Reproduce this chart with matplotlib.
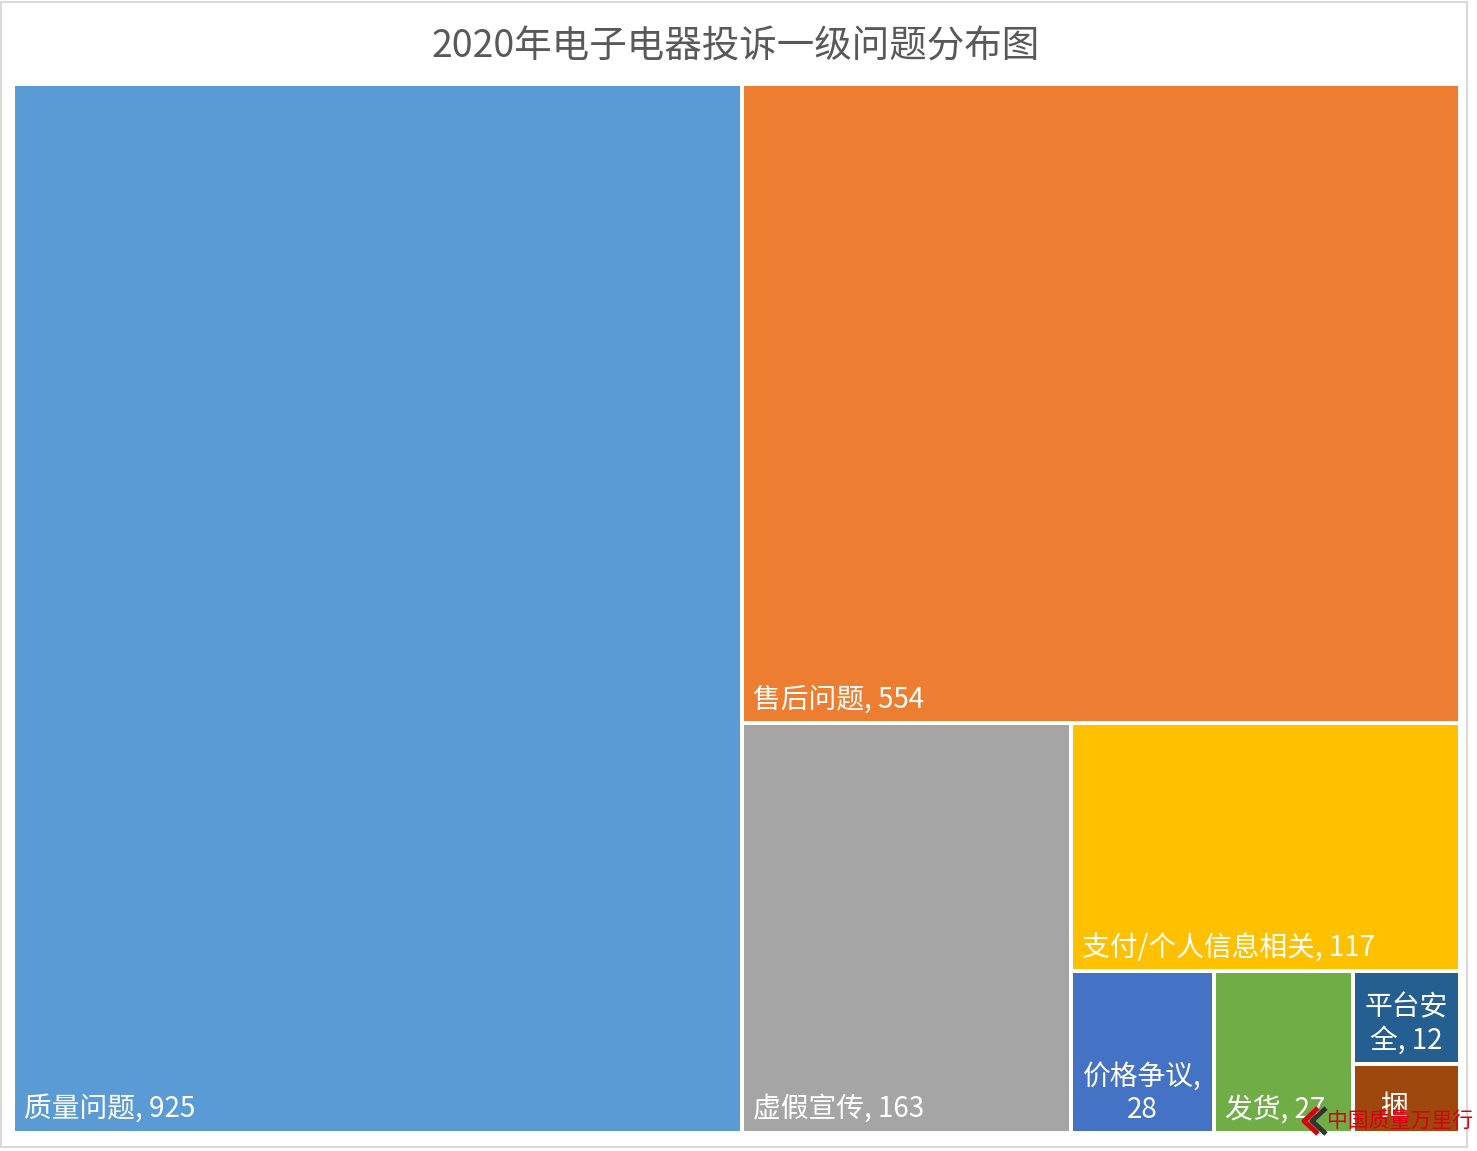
import matplotlib
matplotlib.use("Agg")
import matplotlib.pyplot as plt
from matplotlib.patches import Rectangle

plt.rcParams["font.family"] = ["Noto Sans CJK SC", "DejaVu Sans"]

# ---- data -------------------------------------------------------------
title = "2020年电子电器投诉一级问题分布图"
categories = ["质量问题", "售后问题", "虚假宣传", "支付/个人信息相关",
              "价格争议", "发货", "平台安全", "捆绑销售"]
values = [925, 554, 163, 117, 28, 27, 12, 9]
colors = ["#5B9BD5", "#ED7D31", "#A5A5A5", "#FFC000",
          "#4472C4", "#70AD47", "#255E91", "#9E480E"]
# character index where a label wraps onto a second line (None = one line)
label_breaks = [None, None, None, None, 5, None, 3, 1]


def worst(row, side):
    s = sum(row)
    return max(max(side * side * r / (s * s), s * s / (side * side * r)) for r in row)


def squarify(vals, x, y, w, h):
    """Squarified treemap layout; y grows downward."""
    scale = w * h / float(sum(vals))
    areas = [v * scale for v in vals]
    rects = []
    i = 0
    while i < len(areas):
        short = min(w, h)
        row = [areas[i]]
        j = i + 1
        while j < len(areas) and worst(row + [areas[j]], short) <= worst(row, short):
            row.append(areas[j])
            j += 1
        s = sum(row)
        if w >= h:
            cw = s / h
            yy = y
            for a in row:
                rects.append((x, yy, cw, a / cw))
                yy += a / cw
            x += cw
            w -= cw
        else:
            rh = s / w
            xx = x
            for a in row:
                rects.append((xx, y, a / rh, rh))
                xx += a / rh
            y += rh
            h -= rh
        i = j
    return rects


W, H = 1477, 1151
fig = plt.figure(figsize=(W / 100, H / 100), dpi=100)
ax = fig.add_axes([0, 0, 1, 1])
ax.set_xlim(0, W)
ax.set_ylim(H, 0)
ax.axis("off")

# chart-area outline
ax.add_patch(Rectangle((0.5, 1.5), 1466.5, 1145.5, facecolor="white",
                       edgecolor="#D9D9D9", linewidth=1.5, zorder=0))

ax.text(736, 47, title, ha="center", va="center", fontsize=27,
        color="#595959", zorder=5)

gap = 4
px0, py0, px1, py1 = 15 - gap / 2, 86 - gap / 2, 1458 + gap / 2, 1131 + gap / 2
rects = squarify(values, px0, py0, px1 - px0, py1 - py0)

fs = 20
line_h = fs * 1.389 * 1.15
for (x, y, w, h), name, val, col, brk in zip(rects, categories, values, colors, label_breaks):
    rx, ry, rw, rh = x + gap / 2, y + gap / 2, w - gap, h - gap
    box = Rectangle((rx, ry), rw, rh, facecolor=col, edgecolor="none", zorder=2)
    ax.add_patch(box)

    label = f"{name}, {val}"
    if brk is None:
        ax.text(rx + 9, ry + rh - 6, label, ha="left", va="bottom",
                fontsize=fs, color="white", zorder=3)
        continue
    lines = [label[:brk], label[brk:].lstrip()]
    if 2 * line_h + 14 <= rh:
        ax.text(rx + rw / 2, ry + rh - 6, "\n".join(lines), ha="center",
                va="bottom", multialignment="center", fontsize=fs,
                color="white", linespacing=1.15, zorder=3)
    else:
        # box too short for the wrapped label: only the first line is shown
        ax.text(rx + rw / 2 - 12, ry + 26, lines[0], ha="center", va="top",
                fontsize=fs, color="white", zorder=3)

# publisher mark in the lower right corner
ax.plot([1318, 1304, 1318], [1108, 1121, 1134], color="#D7000F", lw=3.5,
        solid_capstyle="butt", zorder=6)
ax.plot([1326, 1312, 1326], [1108, 1121, 1134], color="#333333", lw=3.5,
        solid_capstyle="butt", zorder=6)
ax.text(1400, 1121, "中国质量万里行", ha="center", va="center", fontsize=15,
        color="#D7000F", zorder=6)

fig.savefig("out.png", dpi=100, facecolor="white")
